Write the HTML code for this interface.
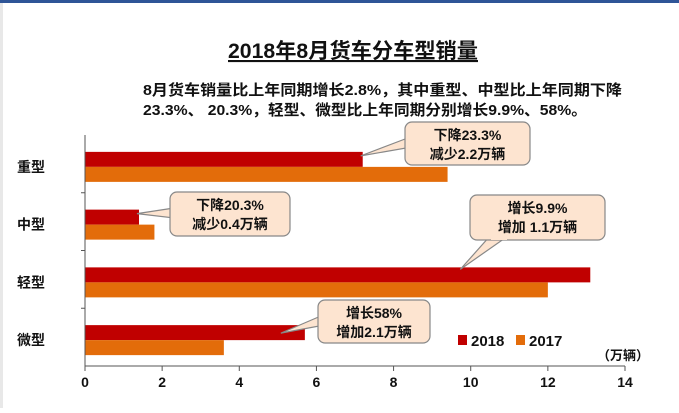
<!DOCTYPE html>
<html><head><meta charset="utf-8"><style>
body{margin:0;width:679px;height:408px;overflow:hidden;background:#fff;font-family:"Liberation Sans","Noto Sans CJK SC",sans-serif}
</style></head><body>
<svg id="c" width="679" height="408" xmlns="http://www.w3.org/2000/svg" style="font-family:'Liberation Sans','Noto Sans CJK SC',sans-serif">
<rect x="0" y="0" width="679" height="3" fill="#2f5597"/>
<rect x="0" y="3" width="3" height="405" fill="#e8e8e8"/>
<text x="228" y="58" textLength="250" lengthAdjust="spacingAndGlyphs" font-size="21" font-weight="bold" text-decoration="underline" fill="#111">2018年8月货车分车型销量</text>
<text x="143" y="95" textLength="479" lengthAdjust="spacingAndGlyphs" font-size="15" font-weight="bold" fill="#111">8月货车销量比上年同期增长2.8%，其中重型、中型比上年同期下降</text>
<text x="143" y="115" textLength="444" lengthAdjust="spacingAndGlyphs" font-size="15" font-weight="bold" fill="#111">23.3%、 20.3%，轻型、微型比上年同期分别增长9.9%、58%。</text>
<g id="plot"></g>
<g id="notes"></g>
<rect x="458" y="335" width="9" height="10" fill="#c00000"/>
<text x="471" y="346" font-size="15" font-weight="bold" fill="#111">2018</text>
<rect x="516" y="335" width="9" height="10" fill="#e36c0a"/>
<text x="529" y="346" font-size="15" font-weight="bold" fill="#111">2017</text>
<text x="597" y="360" font-size="13" font-weight="bold" fill="#111">（万辆）</text>
</svg>
<script>
const categories=["重型","中型","轻型","微型"];
const v2018=[7.2,1.4,13.1,5.7];
const v2017=[9.4,1.8,12.0,3.6];
const ticks=[0,2,4,6,8,10,12,14];
const notes=[["下降23.3%","减少2.2万辆"],["下降20.3%","减少0.4万辆"],["增长9.9%","增加 1.1万辆"],["增长58%","增加2.1万辆"]];
const NS="http://www.w3.org/2000/svg";
const X0=85,X1=625,YT=135,YB=366,XMAX=14;
const bandH=(YB-YT)/categories.length;
const x=v=>X0+v/XMAX*(X1-X0);
const yc=i=>YT+bandH*(i+0.5)+3;
function mk(t,a,p){const e=document.createElementNS(NS,t);for(const k in a)e.setAttribute(k,a[k]);(p||document.getElementById('plot')).appendChild(e);return e;}
categories.forEach((c,i)=>{
 const b1=mk('rect',{x:X0,y:yc(i)-15,width:x(v2018[i])-X0,height:15,fill:'#c00000'});
 
 
 const b2=mk('rect',{x:X0,y:yc(i),width:x(v2017[i])-X0,height:15,fill:'#e36c0a'});
 
 
 const t=mk('text',{x:45,y:yc(i)+5,'text-anchor':'end','font-size':14,'font-weight':'bold',fill:'#111'});
 t.textContent=c;
 
 
 if(i>0){const tk=mk('line',{x1:X0-4,x2:X0,y1:YT+bandH*i,y2:YT+bandH*i,stroke:'#555'});
 
 }
});
const ax=mk('line',{x1:X0,x2:X0,y1:YT,y2:YB,stroke:'#555'});


const xa=mk('line',{x1:X0,x2:X1,y1:YB,y2:YB,stroke:'#555'});


ticks.forEach(v=>{
 const l=mk('line',{x1:x(v),x2:x(v),y1:YB,y2:YB+5,stroke:'#555'});
 
 
 const t=mk('text',{x:x(v),y:YB+21,'text-anchor':'middle','font-size':14,'font-weight':'bold',fill:'#111'});
 t.textContent=v;
 
 
});
// layout: box x,y,w,h and pointer tip offsets (px) relative to bar end / bar top
const boxes=[[405,122,125,43,-2,4],[170,192,120,44,-2,4],[470,195,135,45,-130,2],[318,300,112,43,-24,8]];
const ng=document.getElementById('notes');
notes.forEach((n,i)=>{
 const [bx,by,bw,bh,ox,oy]=boxes[i];
 const px=x(v2018[i])+ox, py=yc(i)-15+oy;
 const cx=bx+bw/2, cy=by+bh/2;
 let d;
 if(i===2){d=`M${bx+20},${by+bh-4} L${px},${py} L${bx+38},${by+bh-4} Z`;}
 else{d=`M${bx+4},${cy-6} L${px},${py} L${bx+4},${cy+4} Z`;}
 const p=mk('path',{d:d,fill:'#fde4d0',stroke:'#888','stroke-width':1.2},ng);
 
 
 const r=mk('rect',{x:bx,y:by,width:bw,height:bh,rx:7,fill:'#fde4d0',stroke:'#888','stroke-width':1.2},ng);
 
 
 if(i===2)mk('rect',{x:bx+21,y:by+bh-6,width:16,height:6,fill:'#fde4d0'},ng);
 else mk('rect',{x:bx+1,y:cy-6,width:6,height:11,fill:'#fde4d0'},ng);
 n.forEach((s,j)=>{
  const t=mk('text',{x:cx,y:by+18+j*19,'text-anchor':'middle','font-size':14,'font-weight':'bold',fill:'#111'},ng);
  t.textContent=s;
  
  
 });
});
</script>
</body></html>
